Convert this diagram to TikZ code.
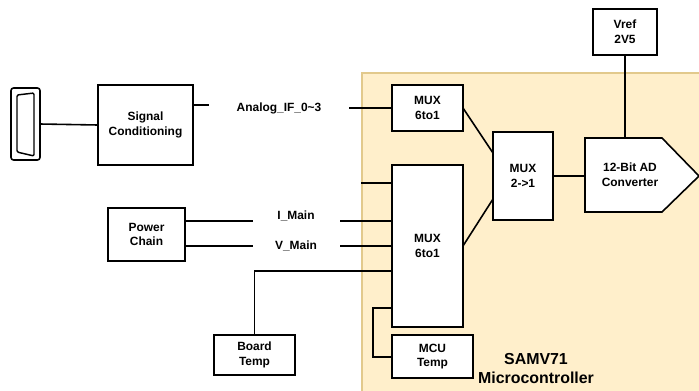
\documentclass[tikz,border=0pt]{standalone}
\usepackage{fontspec}
\setmainfont{Liberation Sans}
\usetikzlibrary{positioning,calc}
\definecolor{mcufill}{HTML}{FFEFCB}
\definecolor{mcuedge}{HTML}{E2C98C}

\begin{document}
\begin{tikzpicture}[
        x=0.0265cm, y=-0.0265cm,
        box/.style={rectangle, draw, line width=1.2pt, outer sep=0pt, align=center, fill=white, font=\fontsize{9}{11.2}\selectfont\bfseries},
        lbl/.style={font=\fontsize{9}{11.2}\selectfont\bfseries, inner sep=0pt},
        big/.style={lbl, font=\fontsize{12}{14}\selectfont\bfseries},
        wire/.style={line width=1.2pt},
    ]
    \useasboundingbox (0,0) rectangle (699,390);

    % ----- Microcontroller area -----
    \path[fill=white] (0,0) rectangle (699,390);
    \path[fill=mcufill, draw=mcuedge, line width=1pt] (362,73) -- (702,73) -- (702,393) -- (362,393) -- cycle;
    \node[big] (samv) at (536,359) {SAMV71};
    \node[big] (micro) at (536,378) {Microcontroller};

    % ----- Inputs -----
    \node[box, rounded corners=2pt, minimum width=0.77cm, minimum height=1.91cm] (conn) at (25.5,124) {};
    \draw[line width=1.1pt, rounded corners=1pt] (17,95) -- (34,93) -- (34,156) -- (17,152) -- cycle;
    \node[box, minimum width=2.52cm, minimum height=2.12cm] (signal) at (145.5,125) {Signal\\Conditioning};
    \node[box, minimum width=2.04cm, minimum height=1.40cm] (power) at (146.5,234.5) {Power\\Chain};
    \node[box, minimum width=2.15cm, minimum height=1.06cm] (board) at (254.5,355) {Board\\Temp};

    % ----- Muxes and converter -----
    \node[box, minimum width=1.88cm, minimum height=1.22cm] (muxa) at (427.5,108) {MUX\\6to1};
    \node[box, minimum width=1.88cm, minimum height=4.29cm] (muxb) at (427.5,246) {MUX\\6to1};
    \node[box, minimum width=2.15cm, minimum height=1.14cm] (mcu) at (432.5,356.5) {MCU\\Temp};
    \node[box, minimum width=1.59cm, minimum height=2.33cm] (muxc) at (523,176) {MUX\\2->1};
    \node[box, minimum width=1.70cm, minimum height=1.22cm] (vref) at (625,32) {Vref\\2V5};
    \draw[wire, fill=white] (585,138) -- (662,138) -- (699,176) -- (662,212) -- (585,212) -- cycle;
    \node[lbl, align=center, minimum width=2.39cm, minimum height=1.96cm] (adc) at (630,175) {12-Bit AD\\Converter};

    % ----- Signal labels -----
    \node[lbl] (analog) at (279,108) {Analog\_IF\_0\textasciitilde3};
    \node[lbl] (imain) at (296,216) {I\_Main};
    \node[lbl] (vmain) at (296,246) {V\_Main};

    \coordinate (analogl) at (209,105);
    \coordinate (analogr) at (349,108);
    \coordinate (freein) at (361,183);
    \coordinate (imainl) at (253,221);
    \coordinate (imainr) at (340,221);
    \coordinate (vmainl) at (253,246);
    \coordinate (vmainr) at (340,246);
    \coordinate (boardin) at (392,271);
    \coordinate (mcuout) at (392,308);

    % ----- Connections -----
    \draw[wire] (conn.east) -- (signal.west);
    \draw[wire] (signal.east |- analogl) -- (analogl);
    \draw[wire] (analogr) -- (muxa.west);
    \draw[wire] (freein) -- (freein -| muxb.west);
    \draw[wire] (power.east |- imainl) -- (imainl);
    \draw[wire] (imainr) -- (imainr -| muxb.west);
    \draw[wire] (power.east |- vmainl) -- (vmainl);
    \draw[wire] (vmainr) -- (vmainr -| muxb.west);
    \draw[wire] (board.north) |- (boardin);
    \draw[wire] (mcuout) -| (373,357) -- (mcu.west |- 373,357);
    \draw[wire] (muxa.east) -- ($(muxc.west)+(0,-23)$);
    \draw[wire] (muxb.east) -- ($(muxc.west)+(0,23)$);
    \draw[wire] (muxc.east) -- (muxc.east -| adc.west);
    \draw[wire] (vref.south) -- (vref.south |- adc.north);

\end{tikzpicture}
\end{document}
